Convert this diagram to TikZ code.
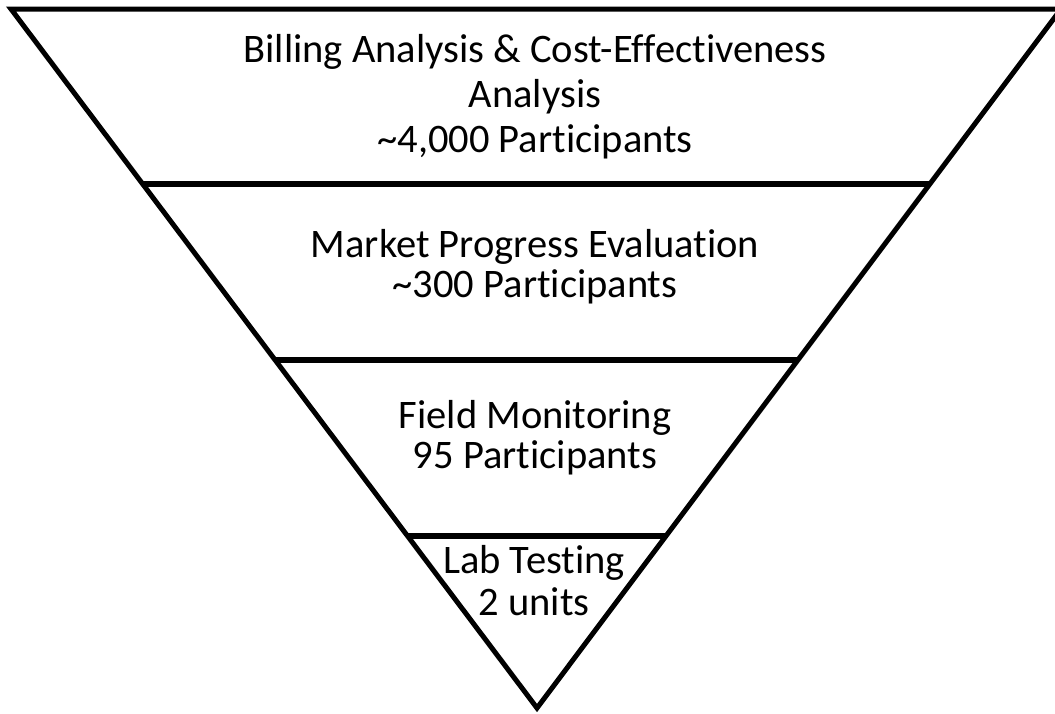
\documentclass[tikz,border=0pt]{standalone}
\usepackage{fontspec}
\setmainfont{Carlito}[Ligatures=NoCommon]
\begin{document}
\begin{tikzpicture}[x=1pt,y=-1pt,
  edge/.style={line width=5pt,line join=miter},
  band/.style={line width=6pt},
  lbl/.style={anchor=base,inner sep=0pt,font=\fontsize{40.5}{48}\selectfont}]
\useasboundingbox (0,0) rectangle (1055,713);
\begin{scope}
\clip (0,0) rectangle (1055,713);
% funnel outline
\coordinate (tl) at (11,9);
\coordinate (tr) at (1061,9);
\coordinate (ap) at (537,708);
\draw[edge] (tl) -- (tr) -- (ap) -- cycle;
% band dividers
\coordinate (a1) at (142.7,184); \coordinate (b1) at (930,184);
\coordinate (a2) at (275,360);   \coordinate (b2) at (798,360);
\coordinate (a3) at (407.6,536); \coordinate (b3) at (666,536);
\draw[band] (a1) -- (b1);
\draw[band] (a2) -- (b2);
\draw[band] (a3) -- (b3);
\end{scope}
% labels
\node[lbl] (t1) at (535,62.5) {Billing Analysis \& Cost-Effectiveness};
\node[lbl] (t2) at (535,107) {Analysis};
\node[lbl] (t3) at (535,152) {\textasciitilde4,000 Participants};
\node[lbl] (m1) at (535,257) {Market Progress Evaluation};
\node[lbl] (m2) at (535,297) {\textasciitilde300 Participants};
\node[lbl] (f1) at (535,428) {Field Monitoring};
\node[lbl] (f2) at (535,468) {95 Participants};
\node[lbl] (l1) at (534,573) {Lab Testing};
\node[lbl] (l2) at (534,615) {2 units};
\end{tikzpicture}
\end{document}
